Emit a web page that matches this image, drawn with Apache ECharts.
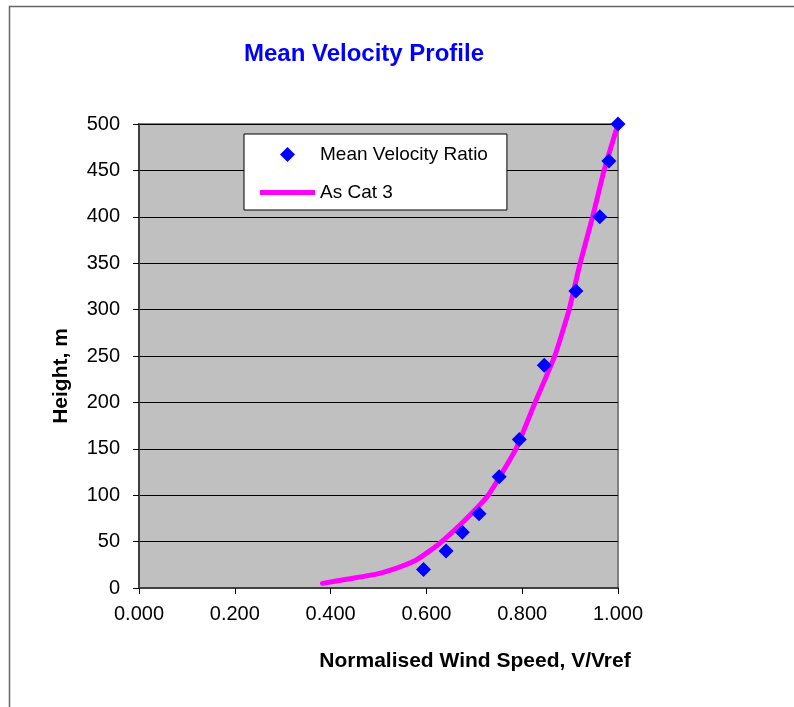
<!DOCTYPE html>
<html>
<head>
<meta charset="utf-8">
<title>Mean Velocity Profile</title>
<script src="https://cdn.jsdelivr.net/npm/echarts@6/dist/echarts.min.js"></script>
<style>
  html, body { margin: 0; padding: 0; background: #fff; }
  #chart { width: 794px; height: 707px; }
</style>
</head>
<body>
<div id="chart"></div>
<script>
// measured points
const velRatio = [0.594, 0.641, 0.675, 0.710, 0.752, 0.794, 0.846, 0.912, 0.962, 0.981, 1.000]
const velHeight = [20, 40, 60, 80, 120, 160, 240, 320, 400, 460, 500]

// AS Cat 3 profile
const cat3Height = [5, 10, 15, 20, 30, 40, 50, 75, 100, 150, 200, 250, 300, 350, 400, 450, 500]
const cat3Ratio = [0.383, 0.44, 0.496, 0.53, 0.578, 0.607, 0.632, 0.684, 0.729, 0.787, 0.827, 0.868, 0.898, 0.921, 0.947, 0.971, 1.000]

const font = "'Liberation Sans', Arial, sans-serif"

const chart = echarts.init(document.getElementById('chart'))

const option = {
  animation: false,
  backgroundColor: '#fff',
  textStyle: { fontFamily: font },
  title: {
    text: 'Mean Velocity Profile',
    left: 364,
    top: 42,
    padding: 0,
    textAlign: 'center',
    textStyle: { color: '#0000ff', fontSize: 24, fontWeight: 'bold', fontFamily: font }
  },
  legend: {
    orient: 'vertical',
    left: 244,
    top: 134,
    data: [
      // diamond kept square inside the wide icon box
      { name: 'Mean Velocity Ratio', icon: 'path://M0,-1L1,0L0,1L-1,0Z' },
      { name: 'As Cat 3', icon: 'path://M0,0H55V5H0Z' }
    ],
    itemWidth: 55,
    itemHeight: 15,
    itemGap: 19,
    symbolKeepAspect: true,
    padding: [11, 19, 8, 16],
    backgroundColor: '#fff',
    borderColor: '#000',
    borderWidth: 1,
    borderRadius: 0,
    textStyle: { fontSize: 19, color: '#000', fontFamily: font }
  },
  grid: {
    left: 139,
    top: 124,
    width: 479,
    height: 464,
    show: true,
    backgroundColor: '#c0c0c0',
    borderColor: '#808080',
    borderWidth: 2
  },
  xAxis: {
    type: 'value',
    min: 0,
    max: 1,
    interval: 0.2,
    axisLine: { lineStyle: { color: '#404040', width: 2 } },
    axisTick: { show: true, length: 6, lineStyle: { color: '#000' } },
    splitLine: { show: false },
    axisLabel: {
      margin: 16,
      color: '#000',
      fontSize: 20,
      fontFamily: font,
      formatter: v => v.toFixed(3)
    }
  },
  yAxis: {
    type: 'value',
    min: 0,
    max: 500,
    interval: 50,
    axisLine: { show: true, lineStyle: { color: '#404040', width: 2 } },
    axisTick: { show: true, length: 6, lineStyle: { color: '#000' } },
    splitLine: { lineStyle: { color: '#000', width: 1 } },
    axisLabel: { margin: 19, color: '#000', fontSize: 20, fontFamily: font }
  },
  graphic: [
    // outer chart border
    {
      type: 'rect',
      shape: { x: 9.5, y: 6.5, width: 900, height: 800 },
      style: { fill: null, stroke: '#666', lineWidth: 1.5 },
      silent: true,
      z: 100
    },
    {
      type: 'text',
      x: 475,
      y: 661,
      style: {
        text: 'Normalised Wind Speed, V/Vref',
        fontFamily: font,
        fontSize: 21,
        fontWeight: 'bold',
        fill: '#000',
        textAlign: 'center',
        textVerticalAlign: 'middle'
      }
    },
    {
      type: 'text',
      x: 61,
      y: 376,
      rotation: Math.PI / 2,
      style: {
        text: 'Height, m',
        fontFamily: font,
        fontSize: 21,
        fontWeight: 'bold',
        fill: '#000',
        textAlign: 'center',
        textVerticalAlign: 'middle'
      }
    }
  ],
  series: [
    {
      name: 'As Cat 3',
      type: 'line',
      data: cat3Ratio.map((v, i) => [v, cat3Height[i]]),
      symbol: 'none',
      showSymbol: false,
      smooth: 0.15,
      lineStyle: { color: '#ff00ff', width: 5, cap: 'round' },
      itemStyle: { color: '#ff00ff' },
      z: 2
    },
    {
      name: 'Mean Velocity Ratio',
      type: 'scatter',
      data: velRatio.map((v, i) => [v, velHeight[i]]),
      symbol: 'diamond',
      symbolSize: 15,
      itemStyle: { color: '#0000ff', opacity: 1 },
      z: 3
    }
  ]
}

chart.setOption(option)
</script>
</body>
</html>
